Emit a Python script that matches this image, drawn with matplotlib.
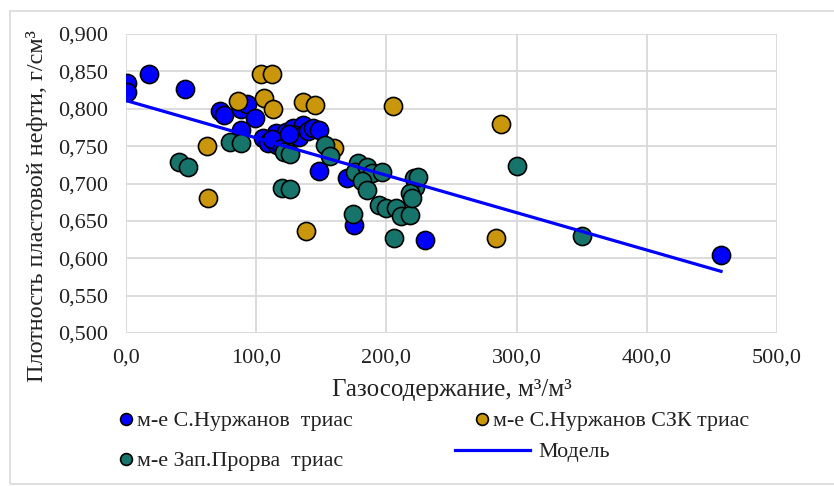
import matplotlib.pyplot as plt
from matplotlib.lines import Line2D
from matplotlib.patches import Rectangle

plt.rcParams['font.family'] = ['Liberation Serif', 'DejaVu Serif']

# м-е С.Нуржанов триас
nur_x = [1, 1, 18, 45, 72, 75, 88, 93, 88, 99, 105, 109, 115, 116, 123, 128, 136, 130, 133,
         140, 144, 148, 112, 120, 125, 148, 170, 175, 230, 457]
nur_y = [0.834, 0.822, 0.846, 0.826, 0.797, 0.792, 0.800, 0.806, 0.772, 0.787, 0.761, 0.754,
         0.767, 0.751, 0.769, 0.774, 0.778, 0.765, 0.762, 0.770, 0.774, 0.772, 0.760, 0.748,
         0.766, 0.717, 0.708, 0.644, 0.624, 0.605]

# м-е С.Нуржанов СЗК триас
szk_x = [62, 63, 86, 104, 112, 106, 113, 136, 145, 138, 160, 205, 284, 288]
szk_y = [0.750, 0.680, 0.810, 0.846, 0.846, 0.814, 0.800, 0.809, 0.805, 0.637, 0.748,
         0.804, 0.627, 0.779]

# м-е Зап.Прорва триас
prv_x = [41, 48, 80, 88, 121, 126, 120, 126, 153, 157, 174, 178, 176, 185, 189, 197, 181,
         185, 194, 200, 207, 211, 218, 206, 221, 222, 218, 224, 220, 300, 350]
prv_y = [0.729, 0.722, 0.756, 0.754, 0.742, 0.740, 0.694, 0.692, 0.751, 0.737, 0.659,
         0.728, 0.715, 0.722, 0.714, 0.715, 0.704, 0.691, 0.671, 0.667, 0.667, 0.656,
         0.658, 0.627, 0.707, 0.695, 0.687, 0.709, 0.680, 0.724, 0.630]

# линейная модель плотности
model_a = 0.811
model_b = -0.000500
model_x = [0, 457]
model_y = [model_a + model_b * x for x in model_x]

c_blue = '#0000ff'
c_gold = '#c9960c'
c_teal = '#17746b'

fig = plt.figure(figsize=(8.34, 4.86), dpi=100)
fig.patches.append(Rectangle((10 / 834, 2 / 486), 830 / 834, 473 / 486, transform=fig.transFigure,
                             fill=False, edgecolor='#d9d9d9', linewidth=1.2))
ax = fig.add_axes([126 / 834, 1 - 333 / 486, 651 / 834, 299 / 486])

ax.scatter(nur_x, nur_y, s=170, color=c_blue, edgecolors='black', linewidths=1.2, zorder=3)
ax.scatter(szk_x, szk_y, s=170, color=c_gold, edgecolors='black', linewidths=1.2, zorder=4)
ax.scatter(prv_x, prv_y, s=170, color=c_teal, edgecolors='black', linewidths=1.2, zorder=5)
ax.plot(model_x, model_y, color=c_blue, linewidth=2.3, zorder=6)

ax.set_xlim(0, 500)
ax.set_ylim(0.5, 0.9)
ax.set_xticks([0, 100, 200, 300, 400, 500])
ax.set_yticks([0.5, 0.55, 0.6, 0.65, 0.7, 0.75, 0.8, 0.85, 0.9])
ax.set_xticklabels(['0,0', '100,0', '200,0', '300,0', '400,0', '500,0'])
ax.set_yticklabels(['0,500', '0,550', '0,600', '0,650', '0,700', '0,750', '0,800', '0,850', '0,900'])
ax.grid(True, color='#d9d9d9', linewidth=1.3, zorder=0)
ax.set_axisbelow(True)
for s in ax.spines.values():
    s.set_visible(False)
ax.tick_params(length=0, labelsize=16, colors='#222222')
ax.tick_params(axis='y', pad=13)
ax.tick_params(axis='x', pad=11)

ax.set_xlabel('Газосодержание, м³/м³', fontsize=18, color='#222222')
ax.xaxis.set_label_coords(0.5, -0.155)
ax.set_ylabel('Плотность пластовой нефти, г/см³', fontsize=17.5, color='#222222')
ax.yaxis.set_label_coords(-0.12, 0.425)


def entry(handle, label, x, y, hl, pad):
    leg = fig.legend([handle], [label], loc='center left', bbox_to_anchor=(x / 834, 1 - y / 486),
                     frameon=False, fontsize=15.8, handlelength=hl, handletextpad=pad,
                     borderpad=0, borderaxespad=0)
    for t in leg.get_texts():
        t.set_color('#222222')


def dot(c):
    return Line2D([], [], marker='o', linestyle='none', markersize=8.5,
                  markerfacecolor=c, markeredgecolor='black', markeredgewidth=1.2)


entry(dot(c_blue), 'м-е С.Нуржанов  триас', 119, 421, 0.6, 0.2)
entry(dot(c_gold), 'м-е С.Нуржанов СЗК триас', 475, 421, 0.6, 0.2)
entry(dot(c_teal), 'м-е Зап.Прорва  триас', 119, 461, 0.6, 0.2)
entry(Line2D([], [], color=c_blue, linewidth=2.3), 'Модель', 455, 452, 3.4, 0.4)

fig.savefig('out.png', dpi=100)
